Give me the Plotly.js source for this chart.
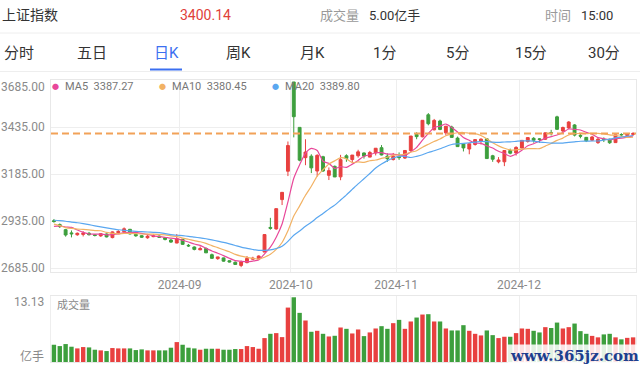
<!DOCTYPE html>
<html><head><meta charset="utf-8">
<script src="https://cdn.plot.ly/plotly-3.0.1.min.js"></script>
<style>html,body{margin:0;padding:0;background:#fff;}#chart{width:640px;height:371px;}</style>
</head><body><div id="chart"></div>
<script>
// ---- data ----
const dates = [
"2024-08-01","2024-08-02","2024-08-05","2024-08-06","2024-08-07","2024-08-08","2024-08-09","2024-08-12","2024-08-13","2024-08-14",
"2024-08-15","2024-08-16","2024-08-19","2024-08-20","2024-08-21","2024-08-22","2024-08-23","2024-08-26","2024-08-27","2024-08-28",
"2024-08-29","2024-08-30","2024-09-02","2024-09-03","2024-09-04","2024-09-05","2024-09-06","2024-09-09","2024-09-10","2024-09-11",
"2024-09-12","2024-09-13","2024-09-18","2024-09-19","2024-09-20","2024-09-23","2024-09-24","2024-09-25","2024-09-26","2024-09-27",
"2024-09-30","2024-10-08","2024-10-09","2024-10-10","2024-10-11","2024-10-14","2024-10-15","2024-10-16","2024-10-17","2024-10-18",
"2024-10-21","2024-10-22","2024-10-23","2024-10-24","2024-10-25","2024-10-28","2024-10-29","2024-10-30","2024-10-31","2024-11-01",
"2024-11-04","2024-11-05","2024-11-06","2024-11-07","2024-11-08","2024-11-11","2024-11-12","2024-11-13","2024-11-14","2024-11-15",
"2024-11-18","2024-11-19","2024-11-20","2024-11-21","2024-11-22","2024-11-25","2024-11-26","2024-11-27","2024-11-28","2024-11-29",
"2024-12-02","2024-12-03","2024-12-04","2024-12-05","2024-12-06","2024-12-09","2024-12-10","2024-12-11","2024-12-12","2024-12-13",
"2024-12-16","2024-12-17","2024-12-18","2024-12-19","2024-12-20","2024-12-23","2024-12-24","2024-12-25","2024-12-26","2024-12-27"];

const openP = [
2937,2916,2889,2872,2862,2864,2870,2862,2856,2866,
2847,2873,2878,2891,2864,2857,2846,2852,2855,2846,
2834,2818,2838,2806,2797,2782,2789,2756,2735,2739,
2724,2716,2699,2714,2732,2733,2770,2901,2893,3049,
3200,3674.4,3433,3272,3280,3201,3277,3178,3226,3170,
3282,3262,3282,3297,3275,3297,3325,3280,3262,3278,
3270,3310,3395,3383,3500,3420,3467,3404,3435,3376,
3345,3318,3342,3360,3372,3282,3250,3250,3310,3297,
3323,3358,3375,3372,3370,3405,3489,3414,3430,3446,
3390,3380,3365,3352,3370,3370,3352,3395,3390,3396];

const highP = [
2946,2922,2893,2885,2874,2881,2877,2866,2870,2869,
2880,2887,2901,2893,2869,2860,2860,2864,2859,2849,
2840,2866,2839,2813,2800,2800,2795,2762,2745,2741,
2727,2720,2725,2749,2745,2752,2865,2952,3001,3088,
3358,3674.4,3433,3370,3290,3290,3282,3220,3230,3287,
3290,3286,3314,3300,3308,3323,3339,3295,3297,3300,
3312,3387,3407,3471,3509,3478,3474,3440,3442,3384,
3348,3347,3371,3375,3374,3287,3275,3312,3320,3333,
3364,3379,3381,3376,3405,3420,3495,3437,3466,3450,
3398,3382,3388,3378,3380,3373,3394,3402,3401,3408];

const lowP = [
2926,2898,2852,2848,2857,2853,2858,2853,2851,2848,
2843,2865,2871,2863,2851,2845,2841,2849,2846,2832,
2819,2817,2808,2797,2779,2780,2765,2735,2729,2719,
2715,2703,2689.7,2710,2729,2731,2770,2889,2889,3020,
3174,3380,3253,3232,3190,3172,3196,3153,3169,3152,
3250,3245,3272,3267,3274,3284,3284,3250,3257,3260,
3265,3307,3370,3380,3444,3417,3418,3390,3379,3329,
3305,3290,3336,3342,3265,3250,3242,3227,3290,3283,
3322,3352,3352,3351,3366,3390,3419,3406,3425,3385,
3375,3355,3360,3345,3355,3345,3350,3384,3385,3388];

const closeP = [
2932.39,2905.34,2860.70,2867.28,2869.90,2870.22,2862.19,2858.20,2867.95,2850.65,
2877.36,2879.43,2893.67,2866.66,2856.58,2848.77,2854.37,2855.52,2848.73,2837.43,
2823.11,2842.21,2811.04,2802.98,2784.28,2788.31,2765.81,2736.49,2744.19,2721.80,
2717.12,2704.09,2717.28,2736.02,2736.81,2748.92,2863.13,2896.31,3000.95,3087.53,
3336.50,3489.78,3258.86,3301.93,3217.74,3284.32,3201.29,3202.95,3169.38,3261.56,
3268.11,3285.87,3302.80,3280.26,3299.70,3322.20,3286.41,3266.24,3279.82,3272.01,
3310.21,3386.99,3383.81,3470.66,3452.30,3470.07,3421.97,3439.28,3379.84,3330.73,
3323.85,3346.01,3367.99,3370.40,3267.19,3263.76,3259.76,3309.78,3295.70,3326.46,
3363.98,3378.81,3364.65,3368.86,3404.08,3402.53,3422.66,3432.49,3461.50,3391.88,
3386.33,3361.49,3382.21,3370.03,3368.07,3351.26,3393.35,3393.53,3398.08,3400.14];

// closes of the 19 sessions before the first candle (for moving averages)
const priorCloses = [2949.93,2922.45,2959.37,2939.36,2970.39,2971.30,2974.01,2976.30,2962.17,2977.13,
2982.31,2964.22,2915.37,2901.95,2886.74,2890.90,2891.85,2879.30,2938.75];

// volume, 亿手
const volume = [
3.50,3.23,3.64,3.10,2.76,3.03,2.96,2.49,2.36,2.22,
2.83,2.76,2.76,2.76,2.42,2.56,2.36,2.36,2.36,2.36,
2.90,4.04,3.50,2.90,2.76,2.49,2.69,2.69,2.69,2.49,
2.49,2.63,2.63,3.23,3.03,2.69,4.85,5.72,5.86,5.05,
11.04,13.13,9.97,8.42,6.13,6.33,5.72,5.18,5.32,7.00,
6.73,5.79,6.60,5.25,6.00,6.80,7.27,6.73,7.88,8.55,
6.73,8.22,9.02,9.63,9.70,8.22,8.22,6.80,6.40,6.40,
7.47,6.33,5.72,5.39,6.40,5.45,4.85,5.12,5.12,5.86,
6.80,6.73,6.33,6.00,7.07,6.90,8.00,6.80,7.07,7.80,
6.26,5.72,5.30,5.00,5.60,5.72,5.00,4.60,4.90,5.00];

const yTicks = [2685, 2935, 3185, 3435, 3685];
const tabs = ["分时","五日","日K","周K","月K","1分","5分","15分","30分"];
const tabX = [19, 92, 166, 238, 312, 384, 457, 531, 604];
const activeTab = 2;
const maPeriods = [5, 10, 20];
const maColors = ["#e8489a", "#f2b264", "#5aa7f0"];

// ---- helpers ----
const W = 640, H = 371;
const px = x => x / W;
const py = y => 1 - y / H;
const RED = "#e8403f", GREEN = "#3d9f3d";
const FONT = 'Roboto, "Noto Sans CJK SC", sans-serif';
const idx = dates.map((d, i) => i);

function movingAvg(n) {
  const all = priorCloses.concat(closeP);
  const off = priorCloses.length;
  return closeP.map((c, i) => {
    let s = 0;
    for (let k = 0; k < n; k++) s += all[off + i - k];
    return s / n;
  });
}
const mas = maPeriods.map(movingAvg);

// month ticks
const monthTickVals = [], monthTickText = [];
for (let i = 1; i < dates.length; i++) {
  if (dates[i].slice(0, 7) !== dates[i - 1].slice(0, 7)) {
    monthTickVals.push(i - 0.5);
    monthTickText.push(dates[i].slice(0, 7));
  }
}

const volColors = closeP.map((c, i) => c >= openP[i] ? RED : GREEN);

const traces = [
  {
    type: "candlestick", x: idx, open: openP, high: highP, low: lowP, close: closeP,
    xaxis: "x", yaxis: "y",
    increasing: {line: {color: RED, width: 1}, fillcolor: RED},
    decreasing: {line: {color: GREEN, width: 1}, fillcolor: GREEN},
    whiskerwidth: 0, hoverinfo: "skip", showlegend: false
  }
];
maPeriods.forEach((p, k) => {
  traces.push({
    type: "scatter", mode: "lines", x: idx, y: mas[k], xaxis: "x", yaxis: "y",
    line: {color: maColors[k], width: 1.2, shape: "spline", smoothing: 0.6},
    hoverinfo: "skip", showlegend: false
  });
});
traces.push({
  type: "bar", x: idx, y: volume, xaxis: "x2", yaxis: "y2",
  marker: {color: volColors, line: {width: 0}},
  hoverinfo: "skip", showlegend: false
});

const lastClose = closeP[closeP.length - 1];
const gridC = "#eeeeee";

const annotations = [];
function txt(x, y, text, opts) {
  annotations.push(Object.assign({
    xref: "paper", yref: "paper", x: px(x), y: py(y), text: text, showarrow: false,
    xanchor: "left", yanchor: "middle", font: {family: FONT, size: 13, color: "#333"}
  }, opts || {}));
}
// header
txt(0, 15, "上证指数", {font: {family: FONT, size: 14, color: "#333"}});
txt(205, 15, lastClose.toFixed(2), {xanchor: "center", font: {family: FONT, size: 14, color: "#e0403a"}});
txt(318, 15, "成交量", {font: {family: FONT, size: 13, color: "#999"}});
txt(367, 15, volume[volume.length - 1].toFixed(2) + "亿手", {font: {family: FONT, size: 13, color: "#333"}});
txt(543, 15, "时间", {font: {family: FONT, size: 13, color: "#999"}});
txt(579, 15, "15:00", {font: {family: FONT, size: 13, color: "#333"}});
// tabs
tabs.forEach((t, i) => {
  txt(tabX[i], 53, t, {xanchor: "center",
    font: {family: FONT, size: 15, color: i === activeTab ? "#3b6ff0" : "#333"}});
});
// legend
const legX = [55, 162, 275];
maPeriods.forEach((p, k) => {
  txt(legX[k], 87, "●", {xanchor: "center", font: {family: FONT, size: 7, color: maColors[k]}});
  txt(legX[k] + 8, 87, "MA" + p + "  " + mas[k][mas[k].length - 1].toFixed(2),
      {font: {family: FONT, size: 11, color: "#777"}});
});
// y tick labels (price)
yTicks.forEach((v, i) => {
  annotations.push({xref: "paper", yref: "y", x: px(47), y: v, text: v.toFixed(2), showarrow: false,
    xanchor: "right", yanchor: "middle", yshift: i === yTicks.length - 1 ? -7 : 0,
    font: {family: FONT, size: 12, color: "#8a8a8a"}});
});
// volume labels
txt(46, 302, Math.max.apply(null, volume).toFixed(2), {xanchor: "right", font: {family: FONT, size: 12, color: "#8a8a8a"}});
txt(46, 356, "亿手", {xanchor: "right", font: {family: FONT, size: 12, color: "#8a8a8a"}});
txt(55, 305, "成交量", {font: {family: FONT, size: 11, color: "#888"}});
// watermark
annotations.push({xref: "paper", yref: "paper", x: px(574), y: py(356), text: "<b>www.365jz.com</b>",
  showarrow: false, xanchor: "center", yanchor: "middle", bgcolor: "rgba(255,255,255,0.85)",
  borderpad: 2, font: {family: "DejaVu Serif, serif", size: 15, color: "#1d3f8f"}});

const shapes = [
  {type: "line", xref: "paper", yref: "paper", x0: 0, x1: 1, y0: py(33), y1: py(33), line: {color: "#eeeeee", width: 1}},
  {type: "line", xref: "paper", yref: "paper", x0: 0, x1: 1, y0: py(71.5), y1: py(71.5), line: {color: "#eeeeee", width: 1}},
  {type: "line", xref: "paper", yref: "paper", x0: px(tabX[activeTab] - 16), x1: px(tabX[activeTab] + 16), y0: py(69.5), y1: py(69.5), line: {color: "#3b6ff0", width: 2}},
  {type: "line", xref: "paper", yref: "y", x0: px(51), x1: px(636), y0: lastClose, y1: lastClose,
    line: {color: "#f2a258", width: 2, dash: "7px,4px"}}
];

const layout = {
  width: W, height: H, margin: {l: 0, r: 0, t: 0, b: 0},
  paper_bgcolor: "#fff", plot_bgcolor: "#fff", showlegend: false,
  font: {family: FONT},
  bargap: 0.25,
  xaxis: {domain: [px(51), px(636)], range: [-0.5, dates.length - 0.5], anchor: "y",
    tickmode: "array", tickvals: monthTickVals, ticktext: monthTickText, ticks: "",
    showgrid: true, gridcolor: gridC, zeroline: false,
    showline: true, mirror: true, linecolor: "#e8e8e8", linewidth: 1,
    tickfont: {family: FONT, size: 12, color: "#8a8a8a"}, ticklabelstandoff: 2,
    rangeslider: {visible: false}, fixedrange: true},
  yaxis: {domain: [py(272), py(80)], range: [2664, 3685], anchor: "x",
    tickmode: "array", tickvals: yTicks, showticklabels: false, ticks: "",
    showgrid: true, gridcolor: gridC, zeroline: false,
    showline: true, mirror: true, linecolor: "#e8e8e8", fixedrange: true},
  xaxis2: {domain: [px(51), px(636)], range: [-0.5, dates.length - 0.5], anchor: "y2", matches: "x",
    tickmode: "array", tickvals: monthTickVals, showticklabels: false, ticks: "",
    showgrid: true, gridcolor: gridC, zeroline: false,
    showline: true, mirror: true, linecolor: "#e8e8e8", fixedrange: true},
  yaxis2: {domain: [py(362), py(296)], range: [0, 13.39], anchor: "x2",
    showticklabels: false, showgrid: false, zeroline: false, ticks: "",
    showline: true, mirror: true, linecolor: "#eeeeee", fixedrange: true},
  annotations: annotations, shapes: shapes
};

Plotly.newPlot("chart", traces, layout, {staticPlot: true, displayModeBar: false});
</script>
</body></html>
